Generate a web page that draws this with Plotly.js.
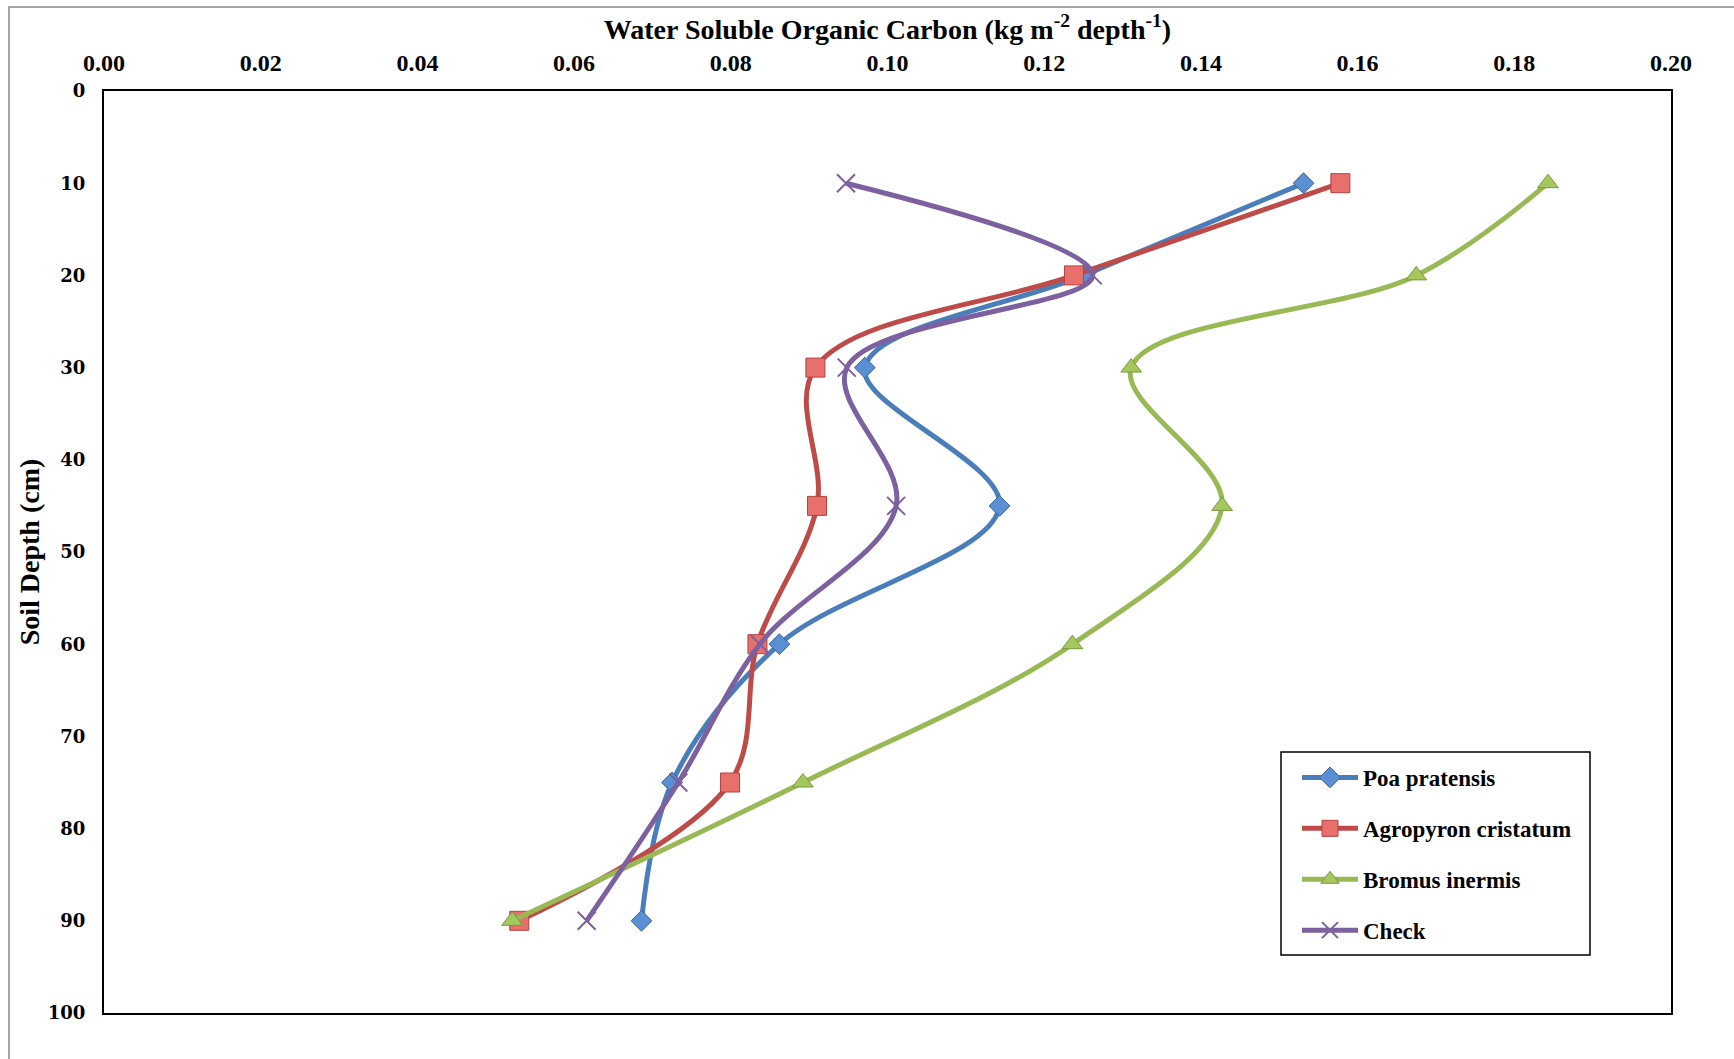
<!DOCTYPE html>
<html>
<head>
<meta charset="utf-8">
<script src="https://cdn.plot.ly/plotly-3.0.1.min.js"></script>
<style>html,body{margin:0;padding:0;background:#fff;}</style>
</head>
<body>
<div id="chart" style="width:1734px;height:1059px;"></div>
<script>
// Soil depth (cm)
const depths = [10, 20, 30, 45, 60, 75, 90];
// Water soluble organic carbon (kg m-2 depth-1)
const poaPratensis = [0.1531, 0.1250, 0.0971, 0.1143, 0.0862, 0.0725, 0.0686];
const agropyronCristatum = [0.1578, 0.1238, 0.0908, 0.0910, 0.0834, 0.0799, 0.0530];
const bromusInermis = [0.1843, 0.1675, 0.1311, 0.1427, 0.1236, 0.0892, 0.0521];
const check = [0.0947, 0.1262, 0.0948, 0.1011, 0.0837, 0.0733, 0.0616];
const seriesNames = ["Poa pratensis", "Agropyron cristatum", "Bromus inermis", "Check"];
const xTickVals = [0, 0.02, 0.04, 0.06, 0.08, 0.10, 0.12, 0.14, 0.16, 0.18, 0.20];
const yTickVals = [0, 10, 20, 30, 40, 50, 60, 70, 80, 90, 100];

const styles = [
  {line: "#4A7EBB", marker: {symbol: "diamond", size: 16, color: "#5B8FD3", line: {color: "#3C679A", width: 1}}},
  {line: "#BE4B48", marker: {symbol: "square", size: 19, color: "#E8706C", line: {color: "#B4423F", width: 1}}},
  {line: "#98B954", marker: {symbol: "triangle-up", size: 18, color: "#A4C85E", line: {color: "#7A9A3E", width: 1}}},
  {line: "#7D60A0", marker: {symbol: "x-thin-open", size: 18, color: "#7D60A0", line: {color: "#7D60A0", width: 2}}}
];
const values = [poaPratensis, agropyronCristatum, bromusInermis, check];

const traces = values.map((v, i) => ({
  type: "scatter",
  mode: "lines+markers",
  name: seriesNames[i],
  legendgroup: "g" + i,
  x: v,
  y: depths,
  line: {color: styles[i].line, width: 5, shape: "spline", smoothing: 1},
  marker: styles[i].marker
}));

const W = 1734, H = 1059;
const L = 104, R = 63, T = 91, B = 46;
const pw = W - L - R, ph = H - T - B;
const px = (x) => (x - L) / pw;
const py = (y) => (H - B - y) / ph;

const layout = {
  width: W, height: H,
  margin: {l: L, r: R, t: T, b: B, pad: 0},
  paper_bgcolor: "#ffffff",
  plot_bgcolor: "#ffffff",
  showlegend: true,
  xaxis: {
    side: "top",
    range: [0, 0.2],
    tickvals: xTickVals,
    tickformat: ".2f",
    showgrid: false,
    zeroline: false,
    showline: true,
    linecolor: "#000",
    linewidth: 2,
    mirror: true,
    ticks: "",
    ticklen: 0,
    ticklabelstandoff: 8,
    tickfont: {family: "Liberation Serif", size: 24, color: "#000", weight: "bold"},
    title: {text: "<b>Water Soluble Organic Carbon (kg m<sup>-2</sup> depth<sup>-1</sup>)</b>",
            font: {family: "Liberation Serif", size: 28, color: "#000"}, standoff: 3}
  },
  yaxis: {
    range: [100, 0],
    tickvals: yTickVals,
    showgrid: false,
    zeroline: false,
    showline: true,
    linecolor: "#000",
    linewidth: 2,
    mirror: true,
    ticks: "",
    tickfont: {family: "DejaVu Serif", size: 18, color: "#000", weight: "bold"},
    ticklabelstandoff: 13,
    title: {text: "<b>Soil Depth (cm)</b>", font: {family: "Liberation Serif", size: 28, color: "#000"}, standoff: 0}
  },
  legend: {
    x: px(1297), y: py(756), xanchor: "left", yanchor: "top",
    bgcolor: "rgba(0,0,0,0)", borderwidth: 0,
    font: {family: "Liberation Serif", size: 23, color: "#000", weight: "bold"},
    tracegroupgap: 18,
    itemwidth: 56
  },
  shapes: [
    {type: "rect", xref: "paper", yref: "paper", x0: px(1281), x1: px(1590), y0: py(955), y1: py(752),
     line: {color: "#000", width: 1.5}, fillcolor: "rgba(0,0,0,0)"},
    {type: "rect", xref: "paper", yref: "paper", x0: px(9), x1: px(1760), y0: py(1080), y1: py(7),
     line: {color: "#888", width: 1.5}, fillcolor: "rgba(0,0,0,0)", layer: "below"}
  ]
};

Plotly.newPlot("chart", traces, layout, {displayModeBar: false, staticPlot: true});
</script>
</body>
</html>
